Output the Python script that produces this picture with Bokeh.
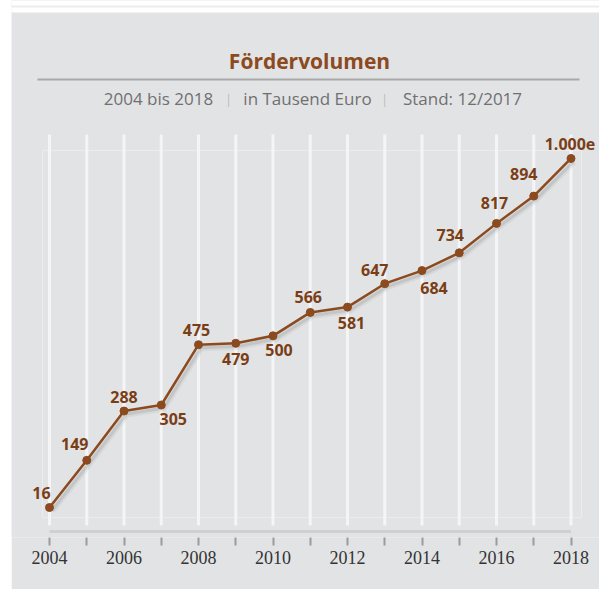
from bokeh.plotting import figure
from bokeh.models import Range1d, FixedTicker, ColumnDataSource
from bokeh.core.properties import value
from bokeh.embed import file_html
from bokeh.resources import INLINE

# ---- data ----
years = list(range(2004, 2019))
volumes = [16, 149, 288, 305, 475, 479, 500, 566, 581, 647, 684, 734, 817, 894, 1000]
value_labels = ["16", "149", "288", "305", "475", "479", "500", "566", "581",
                "647", "684", "734", "817", "894", "1.000e"]
tick_years = years
even_tick_labels = {y: (str(y) if y % 2 == 0 else "") for y in tick_years}
title_text = "Fördervolumen"
subtitle_parts = ["2004 bis 2018", "in Tausend Euro", "Stand: 12/2017"]

# ---- layout (page pixel -> data helpers) ----
W, H = 599, 589
LEFT = 11  # white page strip on the left
X_PX0, X_PER_YEAR = 49.0, 37.25
Y_PX_ZERO, Y_PER_UNIT = 512.68, 0.3547
FRAME_BOTTOM = 537


def dx(px):
    return years[0] + (px - X_PX0) / X_PER_YEAR


def dy(py):
    return (Y_PX_ZERO - py) / Y_PER_UNIT


# label offsets in screen px (dx, dy down-positive)
label_dx = [-8, -12, 0, 12, -2, 0, 6, -2, 4, -10, 12, -9, -2, -10, -1]
label_dy = [-15, -16, -14, 14, -15, 16, 14, -15, 16, -14, 17, -18, -20, -22, -14]

PANEL = "#e2e3e5"
BROWN = "#8c4a1f"
LABEL_BROWN = "#7a3e17"

p = figure(width=W - LEFT, height=H,
           x_range=Range1d(dx(LEFT), dx(W)), y_range=Range1d(dy(FRAME_BOTTOM), dy(0)),
           output_backend="svg", toolbar_location=None,
           y_axis_location=None, x_axis_location="below",
           min_border_left=0, min_border_right=0, min_border_top=0,
           min_border_bottom=H - FRAME_BOTTOM,
           background_fill_color=PANEL, border_fill_color=PANEL,
           outline_line_color=None)
p.margin = (0, 0, 0, LEFT)
p.grid.visible = False

ax = p.xaxis[0]
ax.ticker = FixedTicker(ticks=tick_years)
ax.major_label_overrides = even_tick_labels
ax.axis_line_color = None
ax.major_tick_line_color = "#9c9c9c"
ax.major_tick_line_width = 2
ax.major_tick_in = 0
ax.major_tick_out = 8
ax.minor_tick_line_color = None
ax.major_label_standoff = 5
ax.major_label_text_font = "Liberation Serif"
ax.major_label_text_font_size = "18px"
ax.major_label_text_color = "#333333"

# white top strip with faint rule
p.quad(left=[dx(0)], right=[dx(W)], bottom=[dy(12)], top=[dy(0)],
       fill_color="white", line_color=None)
p.segment(x0=[dx(0)], y0=[dy(6)], x1=[dx(W)], y1=[dy(6)],
          line_color="#ececec", line_width=2)

# faint inner frame
p.quad(left=[dx(42)], right=[dx(581)], bottom=[dy(517)], top=[dy(150)],
       fill_color=None, line_color="#ebecee", line_width=1)

# vertical white grid lines
p.segment(x0=years, y0=[dy(525)] * len(years), x1=years, y1=[dy(134)] * len(years),
          line_color="#f4f5f6", line_width=3)

# axis bar
p.segment(x0=[years[0]], x1=[years[-1]], y0=[dy(531)], y1=[dy(531)],
          line_color="#cfd0d2", line_width=3)

# title
p.text(x=[dx(309)], y=[dy(60)], text=[title_text], text_font=value("Open Sans"),
       text_font_style="bold", text_font_size="21px", text_color=BROWN,
       text_align="center", text_baseline="middle")
p.segment(x0=[dx(37)], y0=[dy(79)], x1=[dx(579)], y1=[dy(79)],
          line_color="#a9a9a9", line_width=2)

# subtitle
sub_px = [158, 307, 462]
p.text(x=[dx(v) for v in sub_px], y=[dy(98)] * 3, text=subtitle_parts,
       text_font=value("Open Sans"), text_font_size="17px", text_color="#707070",
       text_align="center", text_baseline="middle")
p.text(x=[dx(228), dx(384)], y=[dy(99)] * 2, text=["|", "|"],
       text_font=value("Open Sans"), text_font_size="12px", text_color="#b8b8b8",
       text_align="center", text_baseline="middle")

# shadow
sx = [y + 2.5 / X_PER_YEAR for y in years]
sy = [v - 3 / Y_PER_UNIT for v in volumes]
p.line(sx, sy, line_color="#9a9a9a", line_alpha=0.15, line_width=7)
p.line(sx, sy, line_color="#8a8a8a", line_alpha=0.25, line_width=3)

# main line
src = ColumnDataSource(dict(x=years, y=volumes, t=value_labels, ox=label_dx, oy=label_dy))
p.line("x", "y", source=src, line_color=BROWN, line_width=2.5)
p.scatter("x", "y", source=src, size=8, fill_color=BROWN, line_color=BROWN)
p.text("x", "y", text="t", source=src, x_offset="ox", y_offset="oy",
       text_font=value("Open Sans"), text_font_style="bold", text_font_size="16px",
       text_color=LABEL_BROWN, text_align="center", text_baseline="middle")

open("out.html", "w").write(file_html(p, INLINE))
